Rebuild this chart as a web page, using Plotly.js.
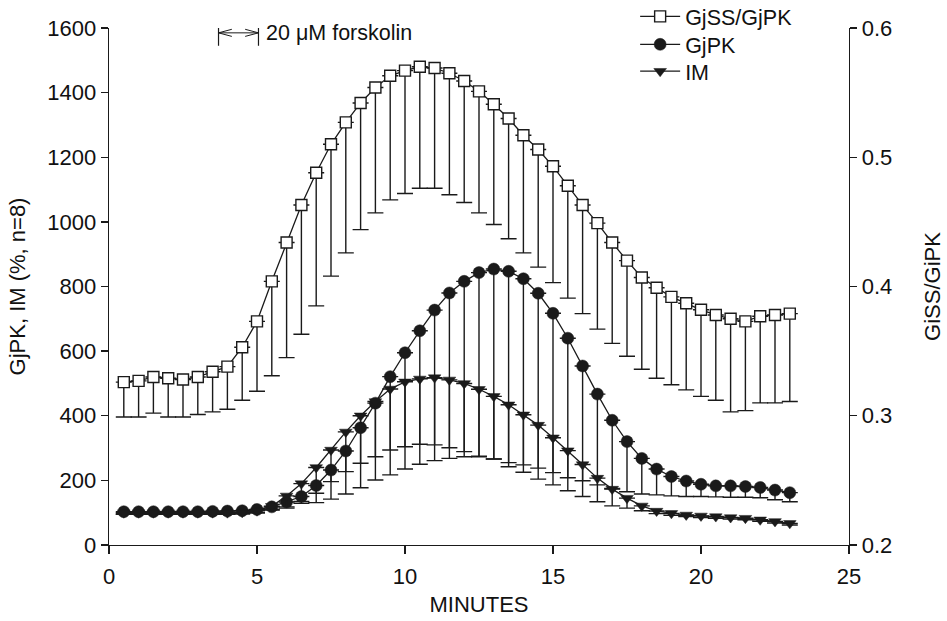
<!DOCTYPE html>
<html>
<head>
<meta charset="utf-8">
<script src="https://cdn.plot.ly/plotly-3.0.1.min.js"></script>
<style>html,body{margin:0;padding:0;background:#fff;}#chart{width:947px;height:621px;}</style>
</head>
<body>
<div id="chart"></div>
<script>
// Time (minutes)
const minutes = [0.5,1.0,1.5,2.0,2.5,3.0,3.5,4.0,4.5,5.0,5.5,6.0,6.5,7.0,7.5,8.0,8.5,9.0,9.5,10.0,10.5,11.0,11.5,12.0,12.5,13.0,13.5,14.0,14.5,15.0,15.5,16.0,16.5,17.0,17.5,18.0,18.5,19.0,19.5,20.0,20.5,21.0,21.5,22.0,22.5,23.0];

// GjSS/GjPK ratio (right axis) and its lower error (SE)
const ratio = [0.326,0.327,0.330,0.329,0.328,0.330,0.334,0.338,0.353,0.373,0.404,0.434,0.463,0.488,0.510,0.527,0.542,0.554,0.563,0.567,0.570,0.569,0.565,0.559,0.551,0.541,0.530,0.517,0.506,0.493,0.478,0.463,0.449,0.434,0.420,0.407,0.399,0.392,0.387,0.382,0.378,0.375,0.373,0.377,0.378,0.379];
const ratioSE = [0.027,0.028,0.028,0.030,0.029,0.029,0.031,0.033,0.041,0.054,0.073,0.089,0.100,0.103,0.102,0.101,0.098,0.097,0.096,0.095,0.094,0.093,0.094,0.094,0.094,0.093,0.093,0.091,0.091,0.090,0.087,0.084,0.082,0.078,0.074,0.071,0.070,0.068,0.067,0.067,0.066,0.072,0.069,0.067,0.068,0.068];

// GjPK (% , left axis) and lower error
const gjpk = [103,103,103,103,103,103,104,105,106,110,118,133,150,184,232,291,363,439,521,595,663,727,780,816,843,854,847,824,779,717,640,554,467,386,320,268,235,212,198,188,183,183,181,178,170,162];
const gjpkSE = [8,8,8,8,8,8,8,8,8,10,10,15,15,24,36,64,110,166,227,291,351,417,479,527,570,588,592,576,541,493,432,355,281,211,155,110,80,60,48,38,34,35,33,32,30,28];

// IM (% , left axis) and lower error
const im = [100,100,100,100,100,100,100,100,101,106,120,152,190,240,294,350,400,444,483,505,514,518,511,500,482,460,434,403,371,332,292,249,207,173,145,121,105,98,93,90,88,85,83,78,73,67];
const imSE = [5,5,5,5,5,5,5,5,5,6,10,38,61,109,152,192,223,243,266,270,264,257,243,227,207,194,192,178,167,146,124,99,73,52,31,15,8,6,5,5,5,5,5,5,5,5];

const seriesNames = ['GjSS/GjPK','GjPK','IM'];
const ink = '#1a1a1a';
const FONT = 'Liberation Sans, Arial, Helvetica, sans-serif';
const FS = 22;

const traces = [
  {
    x: minutes, y: ratio, yaxis: 'y2', name: seriesNames[0], legend: 'legend', type: 'scatter', mode: 'lines+markers',
    line: {color: ink, width: 1.3},
    marker: {symbol: 'square', size: 11, color: '#ffffff', line: {color: ink, width: 1.4}},
    error_y: {type: 'data', symmetric: false, array: minutes.map(() => 0), arrayminus: ratioSE, color: ink, thickness: 1.4, width: 8}
  },
  {
    x: minutes, y: gjpk, yaxis: 'y', name: seriesNames[1], legend: 'legend2', type: 'scatter', mode: 'lines+markers',
    line: {color: ink, width: 1.3},
    marker: {symbol: 'circle', size: 12, color: ink, line: {color: ink, width: 0.5}},
    error_y: {type: 'data', symmetric: false, array: minutes.map(() => 0), arrayminus: gjpkSE, color: ink, thickness: 1.4, width: 8}
  },
  {
    x: minutes, y: im, yaxis: 'y', name: seriesNames[2], legend: 'legend3', type: 'scatter', mode: 'lines+markers',
    line: {color: ink, width: 1.3},
    marker: {symbol: 'triangle-down', size: 11, color: ink, line: {color: ink, width: 0.5}},
    error_y: {type: 'data', symmetric: false, array: minutes.map(() => 0), arrayminus: imSE, color: ink, thickness: 1.4, width: 8}
  }
];

// forskolin application marker (start/end in minutes, label)
const forskolinStart = 3.7, forskolinEnd = 5.05, arrowLevel = 1585;

function legendAt(yPaper) {
  return {x: 0.711, y: yPaper, xanchor: 'left', yanchor: 'top', bgcolor: 'rgba(0,0,0,0)',
          font: {family: FONT, size: 21.5, color: '#111'}, itemwidth: 40};
}

const layout = {
  width: 947, height: 621,
  margin: {l: 109, r: 98, t: 28, b: 76, pad: 0, autoexpand: false},
  paper_bgcolor: '#ffffff', plot_bgcolor: '#ffffff',
  font: {family: FONT, size: FS, color: '#111'},
  showlegend: true,
  legend: legendAt(1.062),
  legend2: legendAt(1.008),
  legend3: legendAt(0.956),
  xaxis: {
    range: [0, 25], tickmode: 'linear', tick0: 0, dtick: 5,
    showline: true, linecolor: ink, linewidth: 1.3, ticks: 'outside', ticklen: 8, tickwidth: 1.3, tickcolor: ink,
    showgrid: false, zeroline: false, tickfont: {size: FS}, ticklabelstandoff: 3,
    title: {text: 'MINUTES', font: {size: FS}, standoff: 9}
  },
  yaxis: {
    range: [0, 1600], tickmode: 'linear', tick0: 0, dtick: 200,
    showline: true, linecolor: ink, linewidth: 1.3, ticks: 'outside', ticklen: 7, tickwidth: 1.3, tickcolor: ink,
    showgrid: false, zeroline: false, tickfont: {size: FS},
    title: {text: 'GjPK, IM (%, n=8)', font: {size: FS}, standoff: 15}
  },
  yaxis2: {
    overlaying: 'y', side: 'right', range: [0.2, 0.6], tickmode: 'linear', tick0: 0.2, dtick: 0.1, tickformat: '.1f',
    showline: true, linecolor: ink, linewidth: 1.3, ticks: 'outside', ticklen: 7, tickwidth: 1.3, tickcolor: ink,
    showgrid: false, zeroline: false, tickfont: {size: FS},
    title: {text: 'GiSS/GiPK', font: {size: FS}, standoff: 33}
  },
  shapes: [
    {type: 'line', xref: 'x', yref: 'y', x0: forskolinStart, x1: forskolinStart, y0: arrowLevel - 40, y1: arrowLevel + 35, line: {color: ink, width: 1.2}},
    {type: 'line', xref: 'x', yref: 'y', x0: forskolinEnd, x1: forskolinEnd, y0: arrowLevel - 40, y1: arrowLevel + 35, line: {color: ink, width: 1.2}},
    {type: 'line', xref: 'x', yref: 'y', x0: forskolinStart, x1: forskolinEnd, y0: arrowLevel, y1: arrowLevel, line: {color: ink, width: 1}},
    {type: 'path', xref: 'x', yref: 'y',
     path: `M ${forskolinStart + 0.45} ${arrowLevel + 11} L ${forskolinStart} ${arrowLevel} L ${forskolinStart + 0.45} ${arrowLevel - 11}`,
     line: {color: ink, width: 1}},
    {type: 'path', xref: 'x', yref: 'y',
     path: `M ${forskolinEnd - 0.45} ${arrowLevel + 11} L ${forskolinEnd} ${arrowLevel} L ${forskolinEnd - 0.45} ${arrowLevel - 11}`,
     line: {color: ink, width: 1}}
  ],
  annotations: [
    {xref: 'x', yref: 'y', x: forskolinEnd + 0.2, y: arrowLevel, xanchor: 'left', yanchor: 'middle', showarrow: false,
     text: '20 μM forskolin', font: {family: FONT, size: 21.5, color: '#111'}}
  ]
};

Plotly.newPlot('chart', traces, layout, {displayModeBar: false, staticPlot: true});
</script>
</body>
</html>
